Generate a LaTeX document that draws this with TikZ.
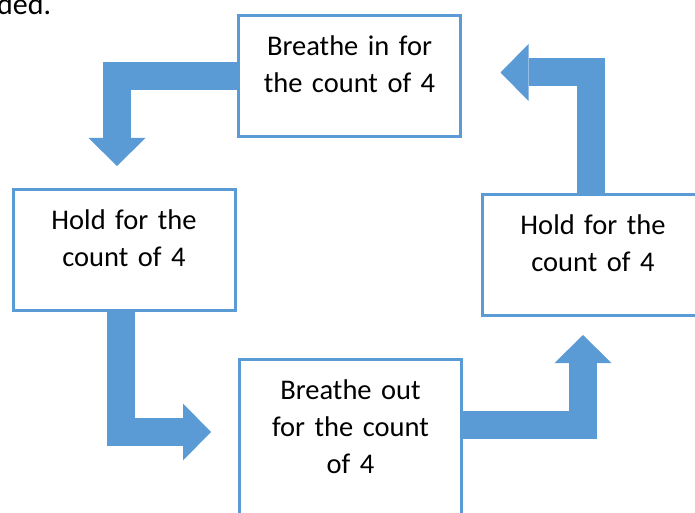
\documentclass[tikz,border=0pt]{standalone}
\usepackage{fontspec}
\setmainfont{Carlito}
\usetikzlibrary{arrows.meta}
\definecolor{stepblue}{HTML}{5B9BD5}

\begin{document}
\begin{tikzpicture}[x=1pt, y=-1pt,
            step box/.style={draw=stepblue, line width=3pt, fill=white, inner sep=0pt, anchor=north, text width=222pt, align=center, text height=40pt, text depth=81pt, font=\fontsize{28.5}{37}\selectfont},
            flow/.style={draw=stepblue, line width=28pt, line join=miter, -{Triangle[width=57pt, length=28pt, line width=0pt]}},
            ]
            \clip (0,0) rectangle (695,513);

            \node[font=\fontsize{30}{37}\selectfont, anchor=base west, inner sep=0pt] (pagetext) at (-3,15) {ded.};

            \node[step box] (breathein) at (349.5,14.5) {Breathe in for\\the count of 4};
            \node[step box] (holdleft) at (124,188) {Hold for the\\count of 4};
            \node[step box] (holdright) at (593,193) {Hold for the\\count of 4};
            \node[step box, text depth=121pt] (breatheout) at (350.5,357.5) {Breathe out\\for the count\\of 4};

            \draw[flow] (breathein.west) -| ([xshift=-7pt,yshift=22pt]holdleft.north);
            \draw[flow] ([xshift=-3.5pt]holdleft.south) |- ([xshift=-27pt,yshift=7.5pt]breatheout.west);
            \draw[flow] ([yshift=15pt]breatheout.east) -| ([xshift=-10pt,yshift=-18pt]holdright.south);
            \draw[flow] ([xshift=-2pt]holdright.north) |- ([xshift=38.5pt,yshift=4pt]breathein.east);
        \end{tikzpicture}
\end{document}
